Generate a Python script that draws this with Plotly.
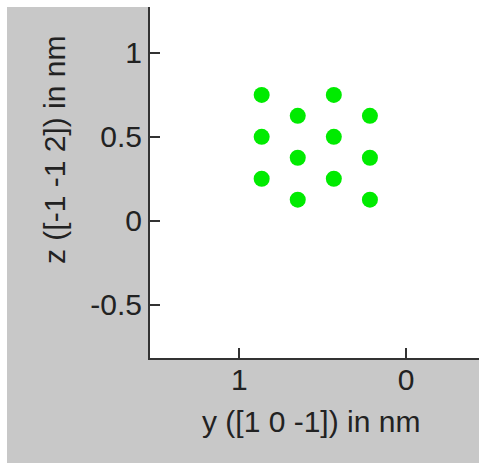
import plotly.graph_objects as go

# Atom positions projected on the (y, z) plane, in nm
y_pos = [0.866, 0.866, 0.866, 0.6495, 0.6495, 0.6495,
         0.433, 0.433, 0.433, 0.2165, 0.2165, 0.2165]
z_pos = [0.75, 0.5, 0.25, 0.625, 0.375, 0.125,
         0.75, 0.5, 0.25, 0.625, 0.375, 0.125]

x_ticks = [1, 0]
y_ticks = [1, 0.5, 0, -0.5]
x_title = "y ([1 0 -1]) in nm"
y_title = "z ([-1 -1 2]) in nm"

W, H = 479, 463
L, R, T, B = 150, 0, 7, 105
pw, ph = W - L - R, H - T - B

FIG_GRAY = "#c8c8c8"
TXT = "#222222"
FONT = "Liberation Sans, Arial, sans-serif"
FS = 30

fig = go.Figure()
fig.add_trace(go.Scatter(
    x=y_pos, y=z_pos, mode="markers",
    marker=dict(size=16, color="rgb(0,235,0)", line=dict(width=0)),
    hoverinfo="skip", showlegend=False,
))

axis_common = dict(
    showgrid=False, zeroline=False, showline=True,
    linecolor="#333333", linewidth=2,
    ticks="inside", ticklen=10, tickwidth=1.5, tickcolor="#333333",
    tickfont=dict(family=FONT, size=FS, color=TXT),
    mirror=False,
)

fig.update_xaxes(range=[1.536, -0.438], tickvals=x_ticks,
                 ticktext=[str(v) for v in x_ticks],
                 ticklabelstandoff=-6, **axis_common)
fig.update_yaxes(range=[-0.819, 1.274], tickvals=y_ticks,
                 ticktext=[str(v) for v in y_ticks], **axis_common)

# white strips along the left and top edges of the figure window
def px_x(px):
    return (px - L) / pw

def px_y(py):
    return (H - B - py) / ph

fig.add_shape(type="rect", xref="paper", yref="paper",
              x0=px_x(0), x1=px_x(7), y0=px_y(H), y1=px_y(0),
              fillcolor="white", line_width=0, layer="below")
fig.add_shape(type="rect", xref="paper", yref="paper",
              x0=px_x(0), x1=px_x(W), y0=px_y(7), y1=px_y(0),
              fillcolor="white", line_width=0, layer="below")

fig.add_annotation(text=x_title, xref="paper", yref="paper",
                   x=px_x(311), y=px_y(421), showarrow=False,
                   xanchor="center", yanchor="middle",
                   font=dict(family=FONT, size=FS, color=TXT))
fig.add_annotation(text=y_title, xref="paper", yref="paper",
                   x=px_x(54), y=px_y(150), showarrow=False, textangle=-90,
                   xanchor="center", yanchor="middle",
                   font=dict(family=FONT, size=FS, color=TXT))

fig.update_layout(
    width=W, height=H,
    margin=dict(l=L, r=R, t=T, b=B, pad=0),
    paper_bgcolor=FIG_GRAY, plot_bgcolor="white",
)

fig.write_html("out.html")
